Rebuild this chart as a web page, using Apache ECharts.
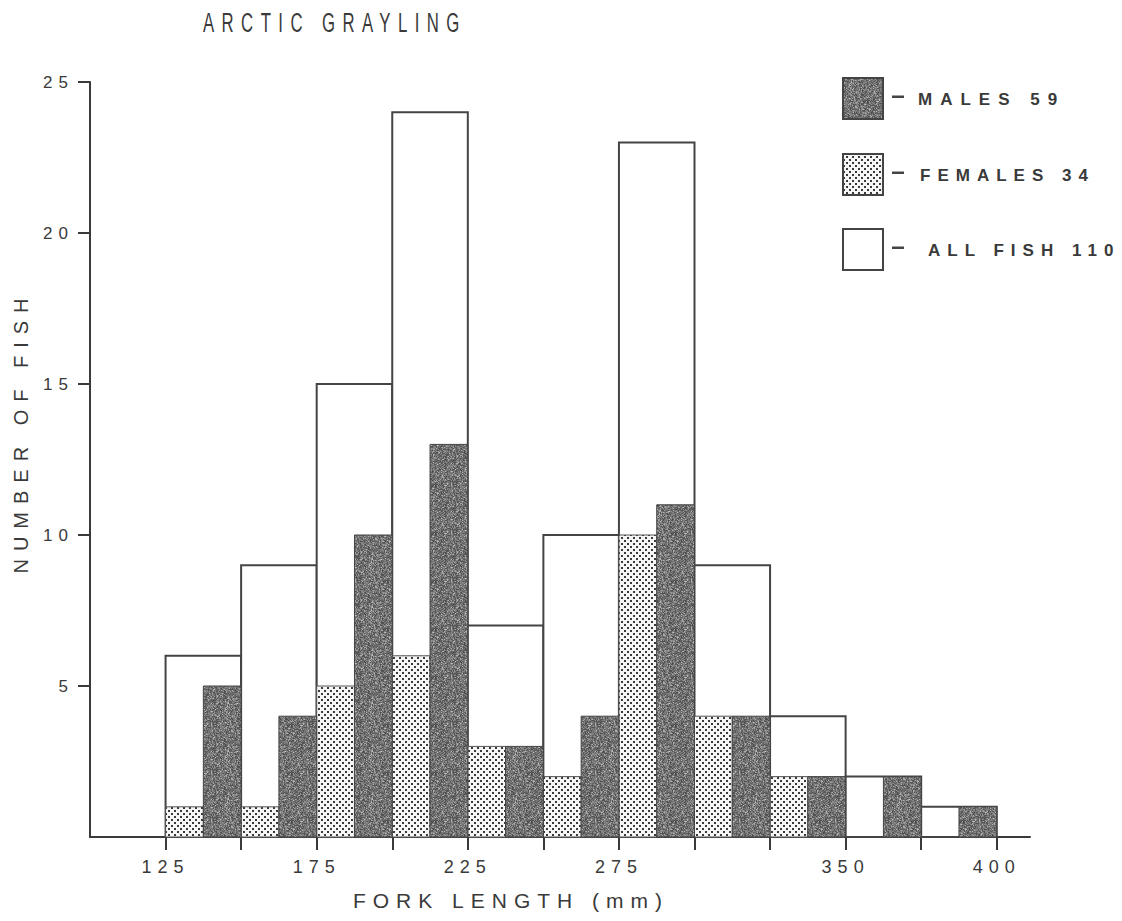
<!DOCTYPE html>
<html>
<head>
<meta charset="utf-8">
<script src="https://cdn.jsdelivr.net/npm/echarts@6/dist/echarts.min.js"></script>
<style>
html, body { margin: 0; padding: 0; background: #ffffff; }
#chart { width: 1122px; height: 921px; }
#chart text { letter-spacing: 5px; }
</style>
</head>
<body>
<div id="chart"></div>
<script>
// ---- data ----
const binStarts = [125, 150, 175, 200, 225, 250, 275, 300, 325, 350, 375];
const binWidth = 25;
const allFish = [6, 9, 15, 24, 7, 10, 23, 9, 4, 2, 1];
const females = [1, 1, 5, 6, 3, 2, 10, 4, 2, 0, 0];
const males   = [5, 4, 10, 13, 3, 4, 11, 4, 2, 2, 1];
const xTickValues = [125, 150, 175, 200, 225, 250, 275, 300, 325, 350, 375, 400];
const xLabelValues = [125, 175, 225, 275, 350, 400];
const yTickValues = [5, 10, 15, 20, 25];
const titleText = 'ARCTIC GRAYLING';
const xName = 'FORK LENGTH (mm)';
const yName = 'NUMBER OF FISH';
const legendLabels = ['MALES 59', 'FEMALES 34', 'ALL FISH 110'];

// ---- textures ----
function hash(x, y) {
  let h = Math.imul(x, 374761393) + Math.imul(y, 668265263);
  h = Math.imul(h ^ (h >>> 13), 1274126177);
  h = h ^ (h >>> 16);
  return (h >>> 0) / 4294967295;
}
function makeMaleTexture() {
  const n = 48;
  const c = document.createElement('canvas');
  c.width = n; c.height = n;
  const ctx = c.getContext('2d');
  const img = ctx.createImageData(n, n);
  for (let y = 0; y < n; y++) {
    for (let x = 0; x < n; x++) {
      const r = hash(x, y);
      const r2 = hash(x + 101, y + 37);
      let g = 74 + Math.floor(r * 72);
      if (r2 > 0.88) g = 150 + Math.floor(r * 40);
      const i = (y * n + x) * 4;
      img.data[i] = g; img.data[i + 1] = g; img.data[i + 2] = g; img.data[i + 3] = 255;
    }
  }
  ctx.putImageData(img, 0, 0);
  return c;
}
function makeFemaleTexture() {
  const c = document.createElement('canvas');
  c.width = 6; c.height = 6;
  const ctx = c.getContext('2d');
  ctx.fillStyle = '#f6f6f6';
  ctx.fillRect(0, 0, 6, 6);
  ctx.fillStyle = '#3a3a3a';
  ctx.fillRect(0, 0, 2, 2);
  ctx.fillRect(3, 3, 2, 2);
  return c;
}
const maleCanvas = makeMaleTexture();
const femaleCanvas = makeFemaleTexture();
const malePattern = { image: maleCanvas.toDataURL(), repeat: 'repeat', imageWidth: 48, imageHeight: 48 };
const femalePattern = { image: femaleCanvas.toDataURL(), repeat: 'repeat', imageWidth: 6, imageHeight: 6 };

function barSeries(name, values, f0, f1, style, z) {
  return {
    type: 'custom',
    name: name,
    z: z,
    silent: true,
    clip: false,
    animation: false,
    encode: { x: 0, y: 1 },
    data: binStarts.map((s, i) => [s, values[i]]),
    renderItem: function (params, api) {
      const s = api.value(0);
      const v = api.value(1);
      if (!v) return null;
      const p0 = api.coord([s + f0 * binWidth, v]);
      const p1 = api.coord([s + f1 * binWidth, 0]);
      return {
        type: 'rect',
        shape: { x: p0[0], y: p0[1], width: p1[0] - p0[0], height: p1[1] - p0[1] },
        style: style
      };
    }
  };
}

const fontMain = "'Liberation Sans', Arial, sans-serif";
const legendX = 843, legendW = 40, legendH = 41;
const legendTops = [78, 154, 229];
const legendFills = [malePattern, femalePattern, '#ffffff'];
const legendTextX = [918, 920, 928];

const graphics = [
  { type: 'text', x: 203, y: 23, scaleX: 0.62,
    style: { text: titleText, font: "27px " + fontMain, fill: '#3a3a3a', verticalAlign: 'middle' } },
  { type: 'text', x: 511, y: 900,
    style: { text: xName, font: '21px ' + fontMain, fill: '#3a3a3a', align: 'center', verticalAlign: 'middle' } },
  { type: 'text', x: 21, y: 432, rotation: Math.PI / 2,
    style: { text: yName, font: '20px ' + fontMain, fill: '#3a3a3a', align: 'center', verticalAlign: 'middle' } }
];
legendLabels.forEach((lab, i) => {
  const t = legendTops[i];
  graphics.push({ type: 'rect', shape: { x: legendX, y: t, width: legendW, height: legendH },
    style: { fill: legendFills[i], stroke: '#444', lineWidth: 2 } });
  graphics.push({ type: 'rect', shape: { x: 892, y: t + legendH / 2 - 3, width: 12, height: 2.5 },
    style: { fill: '#444' } });
  graphics.push({ type: 'text', x: legendTextX[i], y: t + legendH / 2 + 1,
    style: { text: lab, font: 'bold 17px ' + fontMain, fill: '#3a3a3a', verticalAlign: 'middle' } });
});

const option = {
  animation: false,
  backgroundColor: '#ffffff',
  grid: { left: 90, right: 92, top: 82, bottom: 84, containLabel: false, outerBoundsMode: 'none' },
  xAxis: {
    type: 'value', min: 100, max: 411, interval: 25,
    splitLine: { show: false },
    axisLine: { show: true, onZero: false, lineStyle: { color: '#3a3a3a', width: 2 } },
    axisTick: { show: true, length: 13, customValues: xTickValues, lineStyle: { color: '#3a3a3a', width: 2 } },
    axisLabel: { customValues: xLabelValues, margin: 21, color: '#3a3a3a', fontSize: 18, fontFamily: fontMain }
  },
  yAxis: {
    type: 'value', min: 0, max: 25, interval: 5,
    splitLine: { show: false },
    axisLine: { show: true, onZero: false, lineStyle: { color: '#3a3a3a', width: 2 } },
    axisTick: { show: true, length: 12, customValues: yTickValues, lineStyle: { color: '#3a3a3a', width: 2 } },
    axisLabel: { customValues: yTickValues, margin: 16, color: '#3a3a3a', fontSize: 17, fontFamily: fontMain }
  },
  series: [
    barSeries('ALL FISH', allFish, 0, 1, { fill: '#ffffff', stroke: '#444', lineWidth: 2 }, 1),
    barSeries('FEMALES', females, 0, 0.5, { fill: femalePattern, stroke: '#555', lineWidth: 1 }, 2),
    barSeries('MALES', males, 0.5, 1, { fill: malePattern, stroke: '#444', lineWidth: 1 }, 3)
  ],
  graphic: { elements: graphics }
};

const chart = echarts.init(document.getElementById('chart'), null, { renderer: 'svg', width: 1122, height: 921 });
chart.setOption(option);

function spacing() {
  const texts = document.querySelectorAll('#chart text');
  texts.forEach(t => {
    const s = t.textContent;
    if (s === titleText) t.style.letterSpacing = '12px';
    else if (s === legendLabels[0]) t.style.letterSpacing = '8px';
    else if (legendLabels.indexOf(s) >= 0) t.style.letterSpacing = '7px';
    else if (s === xName) t.style.letterSpacing = '7px';
    else if (s === yName) t.style.letterSpacing = '8px';
    else t.style.letterSpacing = '6px';
  });
}
spacing();
chart.on('finished', spacing);
</script>
</body>
</html>
